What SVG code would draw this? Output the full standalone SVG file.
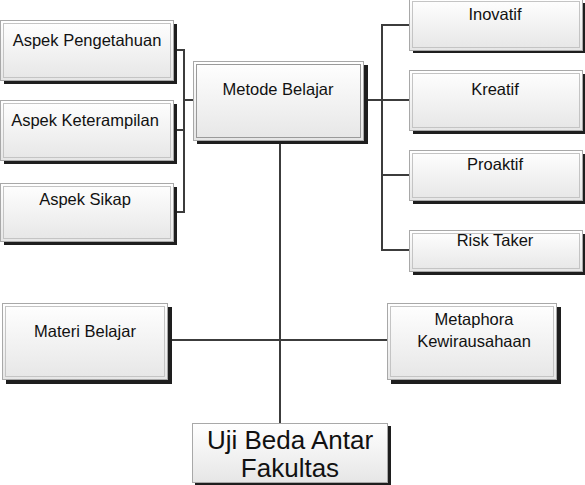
<svg xmlns="http://www.w3.org/2000/svg" width="585" height="485" viewBox="0 0 585 485">
<defs>
<linearGradient id="g" x1="0" y1="0" x2="0" y2="1">
<stop offset="0" stop-color="#ffffff"/>
<stop offset="1" stop-color="#e6e6e6"/>
</linearGradient>
</defs>
<style>
.sh{fill:#1e1e1e}
.bx{fill:url(#g);stroke:#a8a8a8;stroke-width:1}
.in{fill:none;stroke:#c4c4c4;stroke-width:1}
.t{font-family:"Liberation Sans",Arial,sans-serif;font-size:16.5px;fill:#111;text-anchor:middle}
.big{font-size:26px}
.c{stroke:#3c3c3c;stroke-width:2;fill:none}
</style>
<rect width="585" height="485" fill="#ffffff"/>
<g id="connectors">
<path class="c" d="M176 50H184M176 130H184M176 212H184M184 49V213M184 100H193"/>
<path class="c" d="M367 100H382M382 24V251M382 25H409M382 100H409M382 175H409M382 250H409"/>
<path class="c" d="M280 143V423"/>
<path class="c" d="M171 340H387"/>
</g>
<g id="aspek-pengetahuan">
<rect class="sh" x="4" y="24" width="173" height="60"/>
<rect class="bx" x="0.5" y="20.5" width="173" height="60"/>
<rect class="in" x="3.5" y="23.5" width="167" height="54"/>
<text class="t" x="87" y="46">Aspek Pengetahuan</text>
</g>
<g id="aspek-keterampilan">
<rect class="sh" x="4" y="104" width="173" height="60"/>
<rect class="bx" x="0.5" y="100.5" width="173" height="60"/>
<rect class="in" x="3.5" y="103.5" width="167" height="54"/>
<text class="t" x="85" y="126">Aspek Keterampilan</text>
</g>
<g id="aspek-sikap">
<rect class="sh" x="4" y="187" width="173" height="58"/>
<rect class="bx" x="0.5" y="183.5" width="173" height="58"/>
<rect class="in" x="3.5" y="186.5" width="167" height="52"/>
<text class="t" x="85" y="205">Aspek Sikap</text>
</g>
<g id="metode-belajar">
<rect class="sh" x="197" y="65" width="171" height="79"/>
<rect class="bx" x="193.5" y="61.5" width="170" height="79"/>
<rect class="in" x="196.5" y="64.5" width="164" height="73" style="stroke:#9a9a9a"/>
<text class="t" x="278" y="95">Metode Belajar</text>
</g>
<g id="inovatif">
<rect class="sh" x="413" y="3" width="172" height="50"/>
<rect class="bx" x="409.5" y="-1.5" width="173" height="52"/>
<rect class="in" x="412.5" y="1.5" width="167" height="46"/>
<text class="t" x="495" y="20">Inovatif</text>
</g>
<g id="kreatif">
<rect class="sh" x="413" y="74" width="172" height="60"/>
<rect class="bx" x="409.5" y="70.5" width="173" height="60"/>
<rect class="in" x="412.5" y="73.5" width="167" height="54"/>
<text class="t" x="495" y="95">Kreatif</text>
</g>
<g id="proaktif">
<rect class="sh" x="413" y="154" width="172" height="50"/>
<rect class="bx" x="409.5" y="150.5" width="173" height="50"/>
<rect class="in" x="412.5" y="153.5" width="167" height="44"/>
<text class="t" x="495" y="170">Proaktif</text>
</g>
<g id="risk-taker">
<rect class="sh" x="413" y="234" width="172" height="41"/>
<rect class="bx" x="409.5" y="230.5" width="173" height="41"/>
<rect class="in" x="412.5" y="233.5" width="167" height="35"/>
<text class="t" x="495" y="246">Risk Taker</text>
</g>
<g id="materi-belajar">
<rect class="sh" x="6" y="307" width="166" height="77"/>
<rect class="bx" x="2.5" y="303.5" width="165" height="76"/>
<rect class="in" x="5.5" y="306.5" width="159" height="70"/>
<text class="t" x="85" y="337">Materi Belajar</text>
</g>
<g id="metaphora">
<rect class="sh" x="391" y="307" width="170" height="77"/>
<rect class="bx" x="387.5" y="303.5" width="169" height="76"/>
<rect class="in" x="390.5" y="306.5" width="163" height="70"/>
<text class="t" x="474" y="325">Metaphora</text>
<text class="t" x="474" y="347">Kewirausahaan</text>
</g>
<g id="uji-beda">
<rect class="sh" x="195" y="426" width="196" height="59"/>
<rect class="bx" x="192.5" y="423.5" width="195" height="59"/>
<text class="t big" x="290" y="449">Uji Beda Antar</text>
<text class="t big" x="290" y="477">Fakultas</text>
</g>
</svg>
